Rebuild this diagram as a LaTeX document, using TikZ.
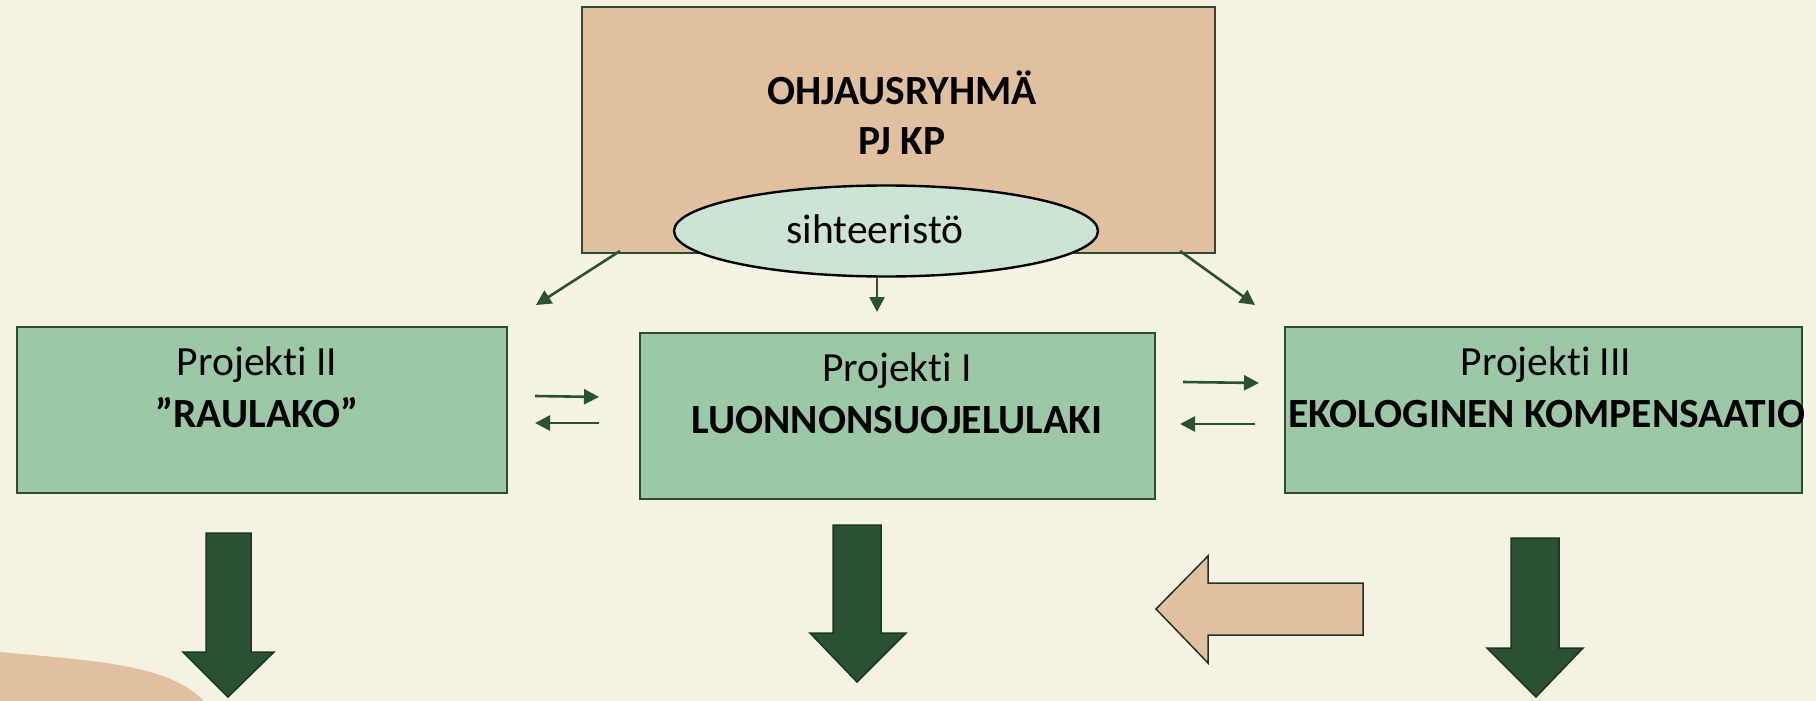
\documentclass[tikz,border=0pt]{standalone}
\usepackage{fontspec}
\setmainfont[Ligatures={NoCommon,NoRequired,NoContextual}]{Carlito}
\usetikzlibrary{arrows.meta,shapes.geometric}
\definecolor{bg}{HTML}{F5F2E4}
\definecolor{tanc}{HTML}{E0C09F}
\definecolor{boxgreen}{HTML}{9CC9A5}
\definecolor{ellfill}{HTML}{CCE4D4}
\definecolor{dkgreen}{HTML}{2A5133}
\definecolor{edgec}{HTML}{2C4B31}
\definecolor{darkedge}{HTML}{1C3520}
\begin{document}
\begin{tikzpicture}[x=1pt,y=-1pt,
  boxnode/.style={draw=edgec, line width=2.2pt, fill=boxgreen, inner sep=0, anchor=north west},
  lbl/.style={anchor=base, inner sep=0, font=\fontsize{41.5}{50}\selectfont},
  blbl/.style={anchor=base, inner sep=0, font=\fontsize{41.5}{50}\selectfont\bfseries},
  conn/.style={draw=dkgreen, line width=2.6pt, -{Triangle[length=15pt,width=15pt]}},
  bigarrow/.style={fill=dkgreen, draw=darkedge, line width=1.5pt, line join=miter},
  tanarrow/.style={fill=tanc, draw=darkedge, line width=1.5pt, line join=miter}]
\fill[bg] (0,0) rectangle (1816,701);
\useasboundingbox (0,0) rectangle (1816,701);

% decorative blob
\fill[tanc] (0,652) .. controls (95,661) and (168,664) .. (204,701) -- (0,701) -- cycle;

% top box and secretariat
\node[draw=edgec, line width=2.2pt, fill=tanc, inner sep=0, anchor=north west,
      minimum width=633, minimum height=246] (top) at (581,6) {};
\node[blbl] (t1) at (902,104) {OHJAUSRYHMÄ};
\node[blbl] (t2) at (902,154) {PJ KP};
\node[ellipse, draw=black, line width=2.4pt, fill=ellfill, inner sep=0,
      minimum width=424, minimum height=91] (sec) at (886,231) {};
\node[lbl] (sect) at (875,243) {sihteeristö};

% project boxes
\node[boxnode, minimum width=490, minimum height=166] (p2) at (16,326) {};
\node[lbl]  (p2a) at (257,375) {Projekti II};
\node[blbl] (p2b) at (257,427) {”RAULAKO”};

\node[boxnode, minimum width=515, minimum height=166] (p1) at (639,332) {};
\node[lbl]  (p1a) at (897,381) {Projekti I};
\node[blbl] (p1b) at (897,433) {LUONNONSUOJELULAKI};

\node[boxnode, minimum width=517, minimum height=166] (p3) at (1284,326) {};
\node[lbl]  (p3a) at (1546,375) {Projekti III};
\node[blbl] (p3b) at (1547,427) {EKOLOGINEN KOMPENSAATIO};

% connector end points
\coordinate (d1s) at (620,251);
\coordinate (d1e) at (536,305);
\coordinate (d2e) at (877,312);
\coordinate (d3s) at (1180,251);
\coordinate (d3e) at (1255,305);
\coordinate (la1) at (535,396);
\coordinate (la2) at (599,397);
\coordinate (lb1) at (599,423);
\coordinate (lb2) at (535,423);
\coordinate (ra1) at (1183,382);
\coordinate (ra2) at (1259,383);
\coordinate (rb1) at (1255,424);
\coordinate (rb2) at (1180,424);

\draw[conn] (d1s) -- (d1e);
\draw[conn] ([xshift=-9pt]sec.south) -- (d2e);
\draw[conn] (d3s) -- (d3e);
\draw[conn] (la1) -- (la2);
\draw[conn] (lb1) -- (lb2);
\draw[conn] (ra1) -- (ra2);
\draw[conn] (rb1) -- (rb2);

% big down arrows
\draw[bigarrow] (206,533) -- (251,533) -- (251,652) -- (274,652) -- (228,697) -- (183,652) -- (206,652) -- cycle;
\draw[bigarrow] (833,525) -- (881,525) -- (881,633) -- (906,633) -- (857,682) -- (810,633) -- (833,633) -- cycle;
\draw[bigarrow] (1511,538) -- (1559,538) -- (1559,648) -- (1583,648) -- (1536,697) -- (1487,648) -- (1511,648) -- cycle;

% tan left arrow
\draw[tanarrow] (1363,583) -- (1363,635) -- (1208,635) -- (1208,663) -- (1156,609) -- (1208,556) -- (1208,583) -- cycle;
\end{tikzpicture}
\end{document}
